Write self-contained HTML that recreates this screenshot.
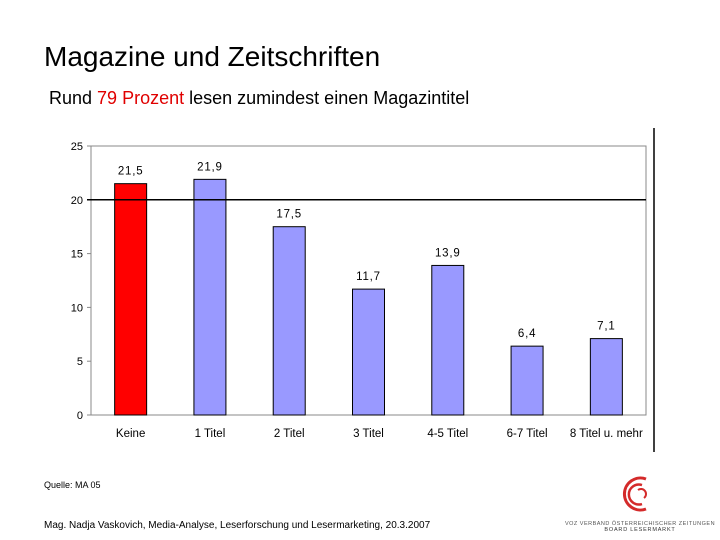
<!DOCTYPE html>
<html><head><meta charset="utf-8"><style>
body{margin:0;background:#fff;font-family:"Liberation Sans",sans-serif;}
#wrap{position:relative;width:720px;height:540px;overflow:hidden;}
.t{position:absolute;white-space:nowrap;}
</style></head><body>
<div id="wrap">
<div class="t" style="left:44px;top:41px;font-size:28px;color:#000">Magazine und Zeitschriften</div>
<div class="t" style="left:49px;top:88px;font-size:18px;color:#000">Rund <span style="color:#e00000">79 Prozent</span> lesen zumindest einen Magazintitel</div>
<svg id="chart" width="720" height="540" style="position:absolute;left:0;top:0"></svg>
<div class="t" style="left:44px;top:480px;font-size:9px">Quelle: MA 05</div>
<div class="t" style="left:44px;top:520px;font-size:10px">Mag. Nadja Vaskovich, Media-Analyse, Leserforschung und Lesermarketing, 20.3.2007</div>
<svg width="160" height="60" style="position:absolute;left:560px;top:475px">
<path d="M86,4 A16,16 0 1 0 86,34" fill="none" stroke="#d42a2a" stroke-width="3"/>
<path d="M82,10 A10,10 0 1 0 82,29" fill="none" stroke="#d42a2a" stroke-width="2.5"/>
<path d="M78,15 A5,5 0 0 1 84,23" fill="none" stroke="#d42a2a" stroke-width="2"/>
<text x="80" y="50" font-size="5.5" text-anchor="middle" fill="#555" letter-spacing="0.5" font-family="Liberation Sans, sans-serif">VOZ VERBAND ÖSTERREICHISCHER ZEITUNGEN</text>
<text x="80" y="56" font-size="5.5" text-anchor="middle" fill="#333" letter-spacing="0.8" font-family="Liberation Sans, sans-serif">BOARD LESERMARKT</text>
</svg>
</div>
<script>
const categories=["Keine","1 Titel","2 Titel","3 Titel","4-5 Titel","6-7 Titel","8 Titel u. mehr"];
const values=[21.5,21.9,17.5,11.7,13.9,6.4,7.1];
const valueLabels=["21,5","21,9","17,5","11,7","13,9","6,4","7,1"];
const yTicks=[0,5,10,15,20,25];
const svg=document.getElementById('chart');
const NS='http://www.w3.org/2000/svg';
const L=91,R=646,T=146,B=415,ymax=25;
const y=v=>B-(v/ymax)*(B-T);
const step=(R-L)/categories.length;
const x=i=>L+step*(i+0.5);
function mk(tag,attrs,text){const e=document.createElementNS(NS,tag);for(const k in attrs)e.setAttribute(k,attrs[k]);if(text!==undefined)e.textContent=text;svg.appendChild(e);return e;}
let e=mk('rect',{x:L,y:T,width:R-L,height:B-T,fill:'none',stroke:'#888','stroke-width':1});


yTicks.forEach(t=>{
 const l=mk('text',{x:83,y:y(t)+4,'font-size':11,'text-anchor':'end','font-family':'Liberation Sans, sans-serif'},String(t));
 
 
 const tk=mk('line',{x1:L-4,x2:L,y1:y(t),y2:y(t),stroke:'#888'});
 
 
});
values.forEach((v,i)=>{
 const r=mk('rect',{x:x(i)-16,y:y(v),width:32,height:B-y(v),fill:i===0?'#ff0000':'#9999ff',stroke:'#000','stroke-width':1});
 
 
 const vl=mk('text',{x:x(i),y:y(v)-9,'font-size':11.5,'letter-spacing':'0.8','text-anchor':'middle','font-family':'Liberation Sans, sans-serif'},valueLabels[i]);
 
 
 const cl=mk('text',{x:x(i),y:437,'font-size':11.5,'text-anchor':'middle','font-family':'Liberation Sans, sans-serif'},categories[i]);
 
 
});
e=mk('line',{x1:L-4,x2:R,y1:y(20),y2:y(20),stroke:'#000','stroke-width':1.5});


e=mk('line',{x1:654,x2:654,y1:128,y2:452,stroke:'#000','stroke-width':1.5});


</script>
</body></html>
